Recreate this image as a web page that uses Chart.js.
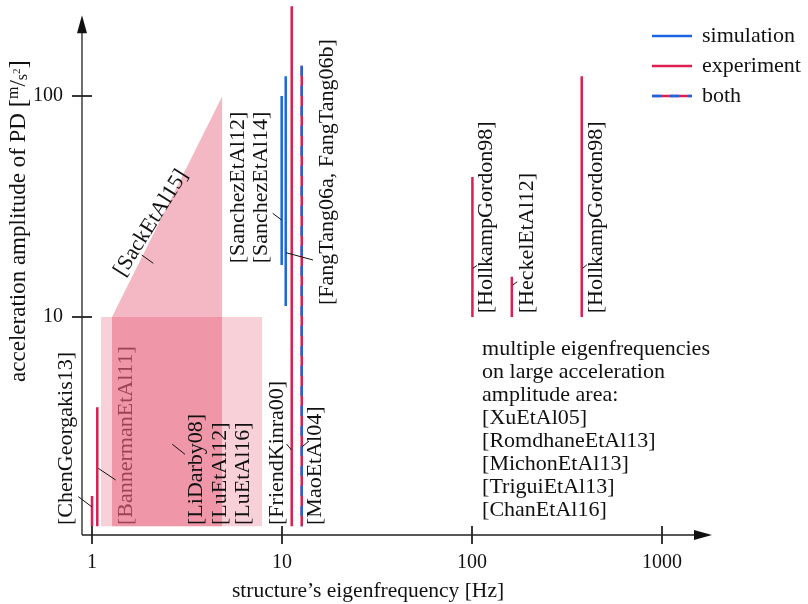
<!DOCTYPE html>
<html>
<head>
<meta charset="utf-8">
<script src="https://cdn.jsdelivr.net/npm/chart.js@4.4.0/dist/chart.umd.min.js"></script>
<style>
  html, body { margin: 0; padding: 0; background: #fff; }
</style>
</head>
<body>
<canvas id="chart" width="808" height="604"></canvas>
<script>
// tick labels
const xTicks = [1, 10, 100, 1000];
const yTicks = [10, 100];

// experiments (frequency in Hz, amplitude range in m/s^2)
const expFreq = [1.0, 1.066, 11.25, 100.5, 162, 378];
const expLow = [1.13, 1.13, 1.13, 10, 10, 10];
const expHigh = [1.55, 3.9, 255, 43, 15.2, 123];

// simulations
const simFreq = [9.96, 10.46];
const simLow = [17.2, 11.2];
const simHigh = [100, 123];

// simulation + experiment
const bothFreq = [12.7];
const bothLow = [1.13];
const bothHigh = [137];

// areas
const areaLow = 1.13;
const sackFreq = [1.274, 4.85];
const sackHigh = [10, 100];
const luFreq = [1.115, 7.85];
const luHigh = [10, 10];

const legendNames = ['simulation', 'experiment', 'both'];
const noteLines = ['multiple eigenfrequencies', 'on large acceleration', 'amplitude area:',
  '[XuEtAl05]', '[RomdhaneEtAl13]', '[MichonEtAl13]', '[TriguiEtAl13]', '[ChanEtAl16]'];

// citation labels, anchored in data space (start of the rotated text)
const citeLabels = [
  { text: '[ChenGeorgakis13]', x: 0.736, y: 1.145, angle: -90 },
  { text: '[LiDarby08]', x: 3.556, y: 1.145, angle: -90 },
  { text: '[LuEtAl12]', x: 4.717, y: 1.145, angle: -90 },
  { text: '[LuEtAl16]', x: 6.256, y: 1.145, angle: -90 },
  { text: '[FriendKinra00]', x: 9.38, y: 1.145, angle: -90 },
  { text: '[MaoEtAl04]', x: 14.92, y: 1.145, angle: -90 },
  { text: '[SanchezEtAl12]', x: 5.889, y: 17.5, angle: -90 },
  { text: '[SanchezEtAl14]', x: 7.82, y: 17.5, angle: -90 },
  { text: '[FangTang06a, FangTang06b]', x: 17.25, y: 11.33, angle: -90 },
  { text: '[HollkampGordon98]', x: 119.5, y: 10.39, angle: -90 },
  { text: '[HeckelEtAl12]', x: 194.1, y: 10.39, angle: -90 },
  { text: '[HollkampGordon98]', x: 453.3, y: 10.39, angle: -90 },
  { text: '[SackEtAl15]', x: 1.39, y: 15.6, angle: -58 },
];
// this one sits below the shaded areas
const hiddenLabels = [{ text: '[BannermanEtAl11]', x: 1.522, y: 1.145, angle: -90 }];

const leaders = [
  [0.847, 1.538, 0.996, 1.385],
  [1.079, 2.067, 1.332, 1.83],
  [2.646, 2.655, 3.087, 2.391],
  [10.56, 2.663, 11.22, 2.502],
  [12.74, 2.581, 13.87, 2.747],
  [8.93, 29.46, 9.96, 27.47],
  [10.5, 19.54, 14.56, 18.11],
  [1.826, 19.08, 2.101, 17.5],
  [100.9, 16.61, 106.2, 17.1],
  [163.8, 13.96, 173.1, 14.44],
  [382.4, 16.61, 402.9, 17.25],
];

const RED = '#dc1e50';
const BLUE = '#1a66e0';
const FONT = '"Liberation Serif", serif';
const INK = '#111';

const vline = (f, lo, hi) => [{ x: f, y: hi }, { x: f, y: lo }];

const datasets = [];
expFreq.forEach((f, i) => datasets.push({
  data: vline(f, expLow[i], expHigh[i]), borderColor: RED, borderWidth: 2.5, order: 1
}));
simFreq.forEach((f, i) => datasets.push({
  data: vline(f, simLow[i], simHigh[i]), borderColor: BLUE, borderWidth: 2.5, order: 1
}));
bothFreq.forEach((f, i) => {
  datasets.push({ data: vline(f, bothLow[i], bothHigh[i]), borderColor: RED, borderWidth: 2.5, order: 1 });
  datasets.push({ data: vline(f, bothLow[i], bothHigh[i]), borderColor: BLUE, borderWidth: 2.5, borderDash: [10, 10], order: 0 });
});
datasets.push({
  data: sackFreq.map((f, i) => ({ x: f, y: sackHigh[i] })),
  borderWidth: 0, backgroundColor: 'rgba(220,20,60,0.3)', fill: { value: areaLow }, order: 2
});
datasets.push({
  data: luFreq.map((f, i) => ({ x: f, y: luHigh[i] })),
  borderWidth: 0, backgroundColor: 'rgba(220,20,60,0.2)', fill: { value: areaLow }, order: 2
});
datasets.forEach(d => { d.showLine = true; d.pointRadius = 0; if (!d.fill) d.fill = false; });

function drawLabel(chart, l, color) {
  const ctx = chart.ctx;
  ctx.save();
  ctx.translate(chart.scales.x.getPixelForValue(l.x), chart.scales.y.getPixelForValue(l.y));
  ctx.rotate(l.angle * Math.PI / 180);
  ctx.font = '22px ' + FONT;
  ctx.fillStyle = color || INK;
  ctx.textAlign = 'left';
  ctx.textBaseline = 'middle';
  ctx.fillText(l.text, 0, 0);
  ctx.restore();
}

const decorations = {
  id: 'decorations',
  beforeDatasetsDraw(chart) {
    hiddenLabels.forEach(l => drawLabel(chart, l, '#6a6a6a'));
  },
  afterDatasetsDraw(chart) {
    const ctx = chart.ctx;
    const xs = chart.scales.x, ys = chart.scales.y;
    const a = chart.chartArea;

    citeLabels.forEach(l => drawLabel(chart, l));

    ctx.save();
    ctx.strokeStyle = INK;
    ctx.lineWidth = 1;
    leaders.forEach(([x1, y1, x2, y2]) => {
      ctx.beginPath();
      ctx.moveTo(xs.getPixelForValue(x1), ys.getPixelForValue(y1));
      ctx.lineTo(xs.getPixelForValue(x2), ys.getPixelForValue(y2));
      ctx.stroke();
    });

    // axes with arrows
    const x0 = a.left, y0 = a.bottom;
    const yTip = ys.getPixelForValue(232);
    const xTip = a.right;
    ctx.strokeStyle = '#222';
    ctx.fillStyle = '#111';
    ctx.lineWidth = 1.3;
    ctx.beginPath();
    ctx.moveTo(x0, y0); ctx.lineTo(x0, yTip + 10);
    ctx.moveTo(x0, y0); ctx.lineTo(xTip - 10, y0);
    ctx.stroke();
    ctx.beginPath();
    ctx.moveTo(x0, yTip); ctx.lineTo(x0 - 5, yTip + 18); ctx.lineTo(x0 + 5, yTip + 18); ctx.closePath();
    ctx.fill();
    ctx.beginPath();
    ctx.moveTo(xTip, y0); ctx.lineTo(xTip - 18, y0 - 5); ctx.lineTo(xTip - 18, y0 + 5); ctx.closePath();
    ctx.fill();

    ctx.lineWidth = 1.8;
    ctx.font = '20px ' + FONT;
    ctx.fillStyle = INK;
    ctx.textBaseline = 'middle';
    ctx.textAlign = 'center';
    xTicks.forEach(v => {
      const p = xs.getPixelForValue(v);
      ctx.beginPath(); ctx.moveTo(p, y0 - 9); ctx.lineTo(p, y0 + 9); ctx.stroke();
      ctx.fillText(String(v), p, y0 + 28);
    });
    ctx.textAlign = 'right';
    yTicks.forEach(v => {
      const p = ys.getPixelForValue(v);
      ctx.beginPath(); ctx.moveTo(x0 - 10, p); ctx.lineTo(x0 + 10, p); ctx.stroke();
      ctx.fillText(String(v), x0 - 19, p);
    });

    // axis titles
    ctx.font = '21.5px ' + FONT;
    ctx.textAlign = 'center';
    ctx.textBaseline = 'alphabetic';
    ctx.fillText('structure\u2019s eigenfrequency [Hz]', 368, y0 + 62);

    ctx.save();
    ctx.translate(25, 221);
    ctx.rotate(-Math.PI / 2);
    const runs = [
      { t: 'acceleration amplitude of PD ', s: 23, dy: 0 },
      { t: '[', s: 25, dy: 1 },
      { t: 'm', s: 16, dy: -7 },
      { t: '/', s: 23, dy: 0 },
      { t: 's', s: 16, dy: 2 },
      { t: '2', s: 11, dy: -5 },
      { t: ']', s: 25, dy: 1 },
    ];
    let total = 0;
    runs.forEach(r => { ctx.font = r.s + 'px ' + FONT; r.w = ctx.measureText(r.t).width; total += r.w; });
    let cx = -total / 2;
    ctx.textAlign = 'left';
    runs.forEach(r => { ctx.font = r.s + 'px ' + FONT; ctx.fillText(r.t, cx, r.dy); cx += r.w; });
    ctx.restore();

    // legend
    const lx = a.right - 60;
    const legY = [a.top + 32, a.top + 62, a.top + 92];
    ctx.lineWidth = 2.5;
    [BLUE, RED].forEach((c, i) => {
      ctx.strokeStyle = c;
      ctx.beginPath(); ctx.moveTo(lx, legY[i]); ctx.lineTo(lx + 40, legY[i]); ctx.stroke();
    });
    ctx.strokeStyle = RED;
    ctx.beginPath(); ctx.moveTo(lx, legY[2]); ctx.lineTo(lx + 40, legY[2]); ctx.stroke();
    ctx.strokeStyle = BLUE;
    ctx.setLineDash([9, 9]);
    ctx.beginPath(); ctx.moveTo(lx, legY[2]); ctx.lineTo(lx + 40, legY[2]); ctx.stroke();
    ctx.setLineDash([]);
    ctx.font = '22px ' + FONT;
    ctx.fillStyle = INK;
    ctx.textAlign = 'left';
    ctx.textBaseline = 'middle';
    legendNames.forEach((n, i) => ctx.fillText(n, lx + 50, legY[i]));

    // note block
    ctx.textBaseline = 'alphabetic';
    const nx = xs.getPixelForValue(113);
    const ny = ys.getPixelForValue(6.73);
    noteLines.forEach((t, i) => ctx.fillText(t, nx, ny + i * 23));
    ctx.restore();
  }
};

new Chart(document.getElementById('chart'), {
  type: 'scatter',
  data: { datasets },
  options: {
    responsive: false,
    animation: false,
    devicePixelRatio: 1,
    layout: { padding: { left: 82, right: 96, top: 4, bottom: 69 } },
    scales: {
      x: { type: 'logarithmic', min: 0.8858, max: 1833, display: false },
      y: { type: 'logarithmic', min: 1.0317, max: 260.8, display: false },
    },
    plugins: {
      legend: { display: false },
      tooltip: { enabled: false },
    },
  },
  plugins: [decorations],
});
</script>
</body>
</html>
